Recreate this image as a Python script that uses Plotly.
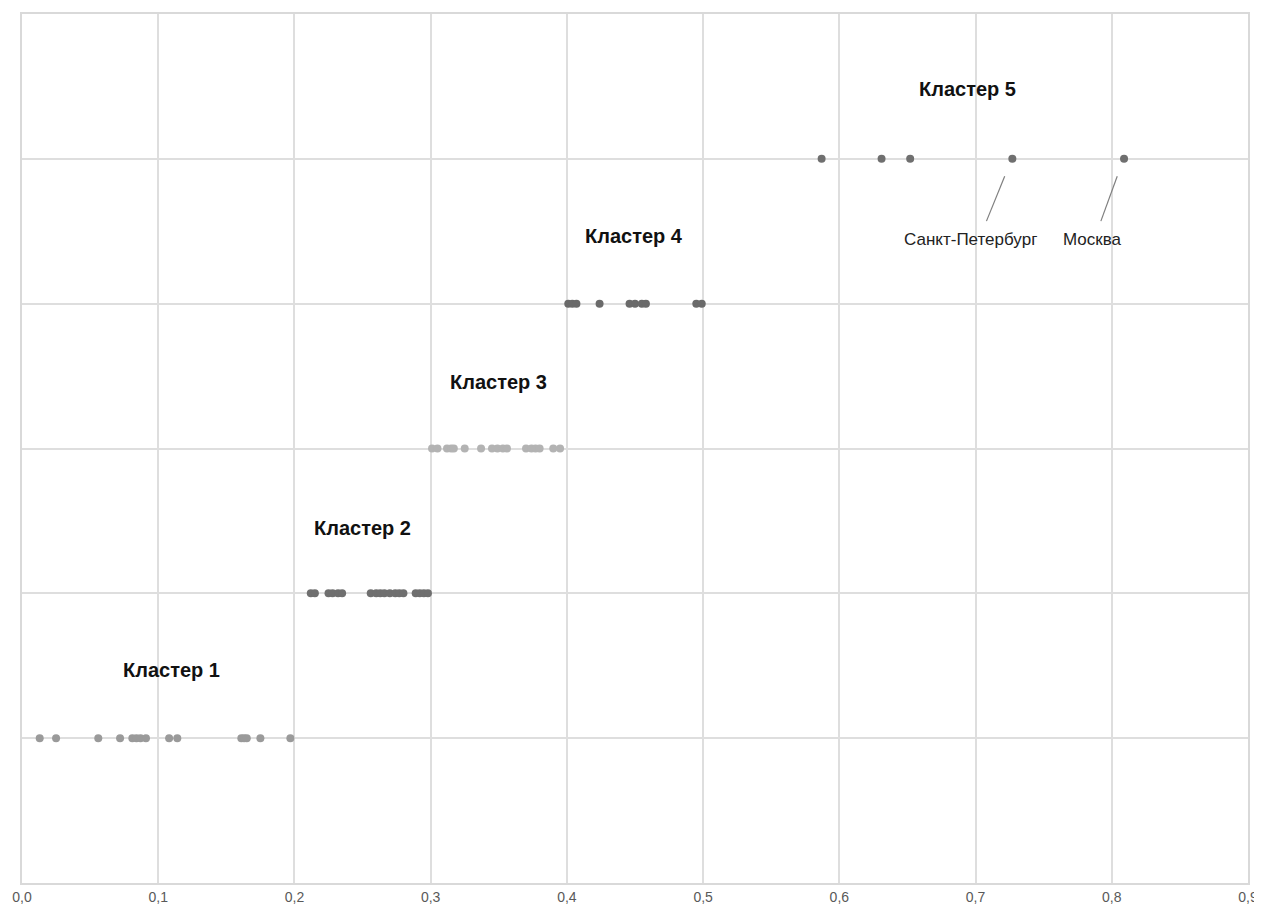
import plotly.graph_objects as go

# Cluster values (x = index value, y = cluster number)
cluster1 = [0.013, 0.025, 0.056, 0.072, 0.081, 0.084, 0.087, 0.091, 0.108, 0.114, 0.161, 0.163, 0.165, 0.175, 0.197]
cluster2 = [0.212, 0.215, 0.225, 0.228, 0.232, 0.235, 0.256, 0.260, 0.263, 0.266, 0.270, 0.274, 0.277, 0.280,
            0.289, 0.292, 0.295, 0.298]
cluster3 = [0.301, 0.305, 0.312, 0.315, 0.317, 0.325, 0.337, 0.345, 0.349, 0.353, 0.356, 0.370, 0.374, 0.377, 0.380,
            0.390, 0.395]
cluster4 = [0.401, 0.404, 0.407, 0.424, 0.446, 0.450, 0.455, 0.458, 0.495, 0.499]
cluster5 = [0.587, 0.631, 0.652, 0.727, 0.809]

clusters = [cluster1, cluster2, cluster3, cluster4, cluster5]
cluster_labels = ["Кластер 1", "Кластер 2", "Кластер 3", "Кластер 4", "Кластер 5"]
colors = ["#9a9a9a", "#6f6f6f", "#b3b3b3", "#6a6a6a", "#6f6f6f"]
label_pos = [(0.11, 1.47), (0.25, 2.45), (0.35, 3.46), (0.449, 4.47), (0.694, 5.48)]

city_names = ["Санкт-Петербург", "Москва"]
city_text_pos = [(0.6965, 4.44), (0.786, 4.44)]
city_lines = [((0.7214, 4.88), (0.708, 4.57)), ((0.804, 4.88), (0.792, 4.57))]

x_ticks = [0.0, 0.1, 0.2, 0.3, 0.4, 0.5, 0.6, 0.7, 0.8, 0.9]

fig = go.Figure()
for i, vals in enumerate(clusters):
    fig.add_trace(go.Scatter(
        x=vals, y=[i + 1] * len(vals), mode="markers",
        marker=dict(size=8, color=colors[i]),
        showlegend=False, hoverinfo="x"))

font_fam = "Liberation Sans Narrow, Liberation Sans, Arial"
annotations = []
for lab, (lx, ly) in zip(cluster_labels, label_pos):
    annotations.append(dict(x=lx, y=ly, text="<b>" + lab + "</b>", showarrow=False,
                            font=dict(family=font_fam, size=20, color="#111111")))
for name, (tx, ty) in zip(city_names, city_text_pos):
    annotations.append(dict(x=tx, y=ty, text=name, showarrow=False,
                            font=dict(family=font_fam, size=17, color="#222222")))

shapes = []
for (p0, p1) in city_lines:
    shapes.append(dict(type="line", xref="x", yref="y", x0=p0[0], y0=p0[1], x1=p1[0], y1=p1[1],
                       line=dict(color="#7f7f7f", width=1.2)))

fig.update_layout(
    width=1254, height=905,
    margin=dict(l=12, r=12, t=4, b=30),
    paper_bgcolor="white", plot_bgcolor="white",
    separators=", ",
    annotations=annotations, shapes=shapes,
    xaxis=dict(range=[0, 0.9], tickvals=x_ticks, tickformat=".1f",
               showgrid=True, gridcolor="#dedede", gridwidth=1.5,
               showline=True, linecolor="#d9d9d9", linewidth=1.5, mirror=True,
               zeroline=False, ticks="", ticklen=0,
               tickfont=dict(family=font_fam, size=14, color="#595959")),
    yaxis=dict(range=[0, 6], dtick=1, showticklabels=False,
               showgrid=True, gridcolor="#dedede", gridwidth=1.5,
               showline=True, linecolor="#d9d9d9", linewidth=1.5, mirror=True,
               zeroline=False),
)

fig.write_html("out.html")
